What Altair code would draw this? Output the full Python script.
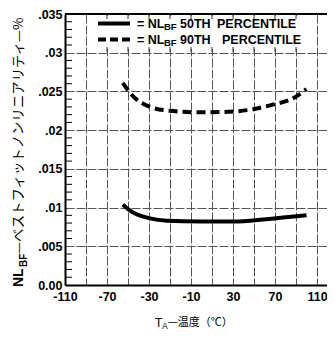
import altair as alt
import pandas as pd

# ---- data ----
temp_50 = [-55, -48, -29, -13, 19, 50, 82, 120]
nl_50 = [0.0104, 0.0096, 0.0086, 0.0083, 0.0082, 0.0082, 0.0085, 0.0090]
temp_90 = [-55, -48, -29, -10, 19, 50, 69, 88, 107, 120]
nl_90 = [0.0261, 0.0248, 0.0230, 0.0225, 0.0223, 0.0224, 0.0227, 0.0233, 0.0241, 0.0253]

x_grid_values = [-110, -90, -70, -50, -30, -10, 10, 30, 50, 70, 90, 110, 130]
x_label_values = [-110, -70, -30, 10, 50, 90, 130]
x_label_texts = ["-110", "-70", "-30", "-10", "30", "70", "110"]
y_tick_values = [0.0, 0.005, 0.01, 0.015, 0.02, 0.025, 0.03, 0.035]
y_label_texts = ["0.00", ".005", ".01", ".015", ".02", ".025", ".03", ".035"]
y_minor_values = [0.001, 0.002, 0.003, 0.004, 0.006, 0.007, 0.008, 0.009,
                  0.011, 0.012, 0.013, 0.014, 0.016, 0.017, 0.018, 0.019,
                  0.021, 0.022, 0.023, 0.024, 0.026, 0.027, 0.028, 0.029,
                  0.031, 0.032, 0.033, 0.034]
legend_hidden_grid = [-70, -50, -30, -10, 10, 30, 50, 70, 90, 110]

W, H = 262, 271
X_DOMAIN = [-110, 139.5]
Y_DOMAIN = [0, 0.035]
LAT = "Liberation Sans"
CJK = "Noto Sans CJK JP"


def chain(values, texts):
    expr = "''"
    for v, t in reversed(list(zip(values, texts))):
        expr = f"datum.value == {v} ? '{t}' : ({expr})"
    return expr


x_scale = alt.Scale(domain=X_DOMAIN, nice=False, zero=False)
y_scale = alt.Scale(domain=Y_DOMAIN, nice=False, zero=False)

x_axis = alt.Axis(values=x_grid_values, labelExpr=chain(x_label_values, x_label_texts),
                  grid=True, gridColor="#555", gridDash=[9, 2], gridWidth=1,
                  ticks=False, domain=True, domainColor="black", domainWidth=2,
                  labelFont=LAT, labelFontWeight="bold", labelFontSize=12.5,
                  labelColor="black", labelPadding=5, labelOverlap=False,
                  labelFlush=False, title=None)
y_axis = alt.Axis(values=y_tick_values, labelExpr=chain(y_tick_values, y_label_texts),
                  grid=True, gridColor="#555", gridDash=[9, 2], gridWidth=1,
                  ticks=False, domain=True, domainColor="black", domainWidth=2,
                  labelFont=LAT, labelFontWeight="bold", labelFontSize=12.5,
                  labelColor="black", labelPadding=3, labelOverlap=False,
                  labelFlush=False, title=None)

X = lambda f: alt.X(f, type="quantitative", scale=x_scale, axis=x_axis)
Y = lambda f: alt.Y(f, type="quantitative", scale=y_scale, axis=y_axis)

one = alt.Data(values=[{}])

df50 = pd.DataFrame({"t": temp_50, "nl": nl_50})
df90 = pd.DataFrame({"t": temp_90, "nl": nl_90})

# white legend box hiding grid lines
legend_box = alt.Chart(one).mark_rect(color="white").encode(
    x=alt.value(35), x2=alt.value(240), y=alt.value(2), y2=alt.value(35))

hidden = pd.DataFrame({"t": legend_hidden_grid})
top_ticks = alt.Chart(hidden).mark_rule(color="#333", strokeWidth=1).encode(
    x=X("t"), y=alt.value(0), y2=alt.value(5))
mid_ticks = alt.Chart(hidden).mark_rule(color="#333", strokeWidth=1).encode(
    x=X("t"), y=alt.value(33), y2=alt.value(38))

top_border = alt.Chart(one).mark_rule(color="black", strokeWidth=2).encode(
    x=alt.value(0), x2=alt.value(W), y=alt.value(0))

minor = alt.Chart(pd.DataFrame({"v": y_minor_values})).mark_rule(
    color="black", strokeWidth=1).encode(y=Y("v"), x=alt.value(0), x2=alt.value(7))

line50 = alt.Chart(df50).mark_line(color="black", strokeWidth=4,
                                   interpolate="monotone").encode(x=X("t"), y=Y("nl"))
line90 = alt.Chart(df90).mark_line(color="black", strokeWidth=4, strokeDash=[9, 5],
                                   interpolate="monotone").encode(x=X("t"), y=Y("nl"))


def txt(s, x, y, size, font=LAT, weight="bold", angle=0, baseline="middle"):
    return alt.Chart(one).mark_text(text=s, font=font, fontSize=size, fontWeight=weight,
                                    align="left", baseline=baseline, angle=angle,
                                    color="black").encode(x=alt.value(x), y=alt.value(y))


leg_sample1 = alt.Chart(one).mark_rule(color="black", strokeWidth=4).encode(
    x=alt.value(33), x2=alt.value(65), y=alt.value(9.5))
leg_sample2 = alt.Chart(one).mark_rule(color="black", strokeWidth=4, strokeDash=[8, 4]).encode(
    x=alt.value(33), x2=alt.value(65), y=alt.value(25.5))

legend_texts = [
    txt("= NL", 72, 9.5, 12.5), txt("BF", 99, 12.5, 9.5), txt("50TH", 115, 9.5, 12.5),
    txt("PERCENTILE", 152, 9.5, 12.5),
    txt("= NL", 72, 25.5, 12.5), txt("BF", 99, 28.5, 9.5), txt("90TH", 115, 25.5, 12.5),
    txt("PERCENTILE", 157, 25.5, 12.5),
]

x_title = [
    txt("T", 90, 309, 12, weight="normal"),
    txt("A", 97, 312, 8.5, weight="normal"),
    txt("—温度（℃）", 103, 309, 11, font=CJK, weight="normal"),
]
y_title = [
    txt("NL", -46, 273, 14, angle=270),
    txt("BF", -41, 253, 10, angle=270),
    txt("—ベストフィットノンリニアリティ—%", -46, 240, 13.4, font=CJK, weight="normal", angle=270),
]

chart = alt.layer(
    legend_box, top_ticks, mid_ticks, top_border, minor, line50, line90,
    leg_sample1, leg_sample2, *legend_texts, *x_title, *y_title
).properties(
    width=W, height=H,
    autosize=alt.AutoSizeParams(type="none"),
    padding={"left": 57, "top": 6, "right": 0, "bottom": 46},
    background="white",
).configure_view(stroke=None)

chart.save("out.html", embed_options={"renderer": "svg", "actions": False})
